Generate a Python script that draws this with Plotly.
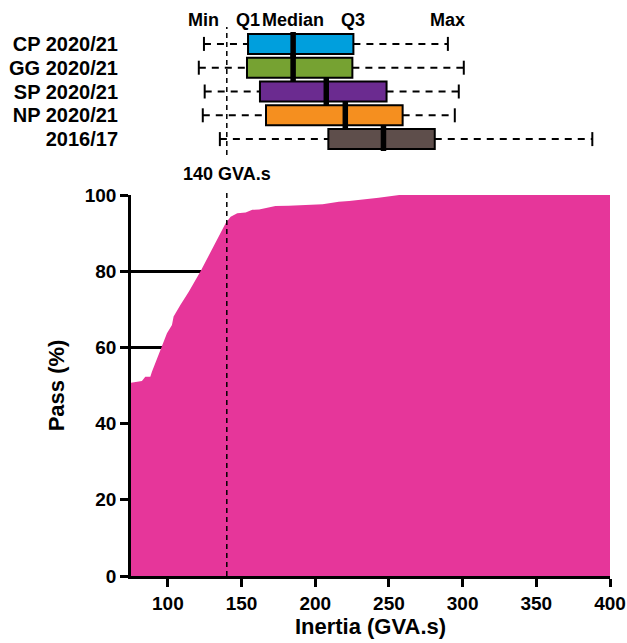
import plotly.graph_objects as go

# ---- data ----
cdf_inertia = [75, 82.4, 84.7, 88.1, 89.2, 91.5, 94.9, 97.1, 99.4, 102.8, 103.9, 108.5,
               114.2, 122.1, 125.5, 130, 134.6, 139.2, 142.6, 147.1, 152.8, 157.3, 161.9,
               173, 182, 196, 205, 216, 223, 243, 257, 400]
cdf_pass = [50.7, 51.2, 52.3, 52.3, 53.6, 55.8, 59.3, 61.1, 63.7, 65.9, 68.1, 71.1,
            74.6, 79.9, 82.5, 86.0, 89.5, 92.6, 94.3, 95.2, 95.4, 96.1, 96.2,
            97.1, 97.2, 97.4, 97.6, 98.2, 98.4, 99.3, 100, 100]

box_labels = ["CP 2020/21", "GG 2020/21", "SP 2020/21", "NP 2020/21", "2016/17"]
box_min = [124.5, 121, 125, 123.7, 135.3]
box_q1 = [154.4, 153.7, 162.5, 166.6, 208.9]
box_median = [185, 185, 207.5, 220.4, 246.3]
box_q3 = [225.9, 225.2, 248.4, 259.3, 281.1]
box_max = [290, 300.8, 297.4, 294.7, 388]
box_colors = ["#009FDD", "#76A232", "#6B2B90", "#F58F1F", "#5E4E4B"]

stat_names = ["Min", "Q1", "Median", "Q3", "Max"]
threshold = 140
threshold_label = "140 GVA.s"

x_ticks = [100, 150, 200, 250, 300, 350, 400]
y_ticks = [0, 20, 40, 60, 80, 100]

FONT = "Liberation Sans, Arial, sans-serif"

# layout geometry (pixels)
W, H = 627, 643
ML, MR, MT, MB = 131, 17, 32, 67
PH = H - MT - MB
MAIN_TOP = (576 - 195) / PH
TOP_BOTTOM = (576 - 151) / PH


def py(pixel_y):
    """pixel row (from top of figure) -> paper y"""
    return (H - MB - pixel_y) / PH


fig = go.Figure()

# CDF area
fig.add_trace(go.Scatter(
    x=cdf_inertia, y=cdf_pass, mode="lines", fill="tozeroy",
    line=dict(width=0, color="#E6369A"), fillcolor="#E6369A",
    xaxis="x", yaxis="y", showlegend=False, hoverinfo="skip"))

rows = list(range(len(box_labels)))

# Boxes (Q1..Q3)
fig.add_trace(go.Bar(
    y=rows, x=[q3 - q1 for q1, q3 in zip(box_q1, box_q3)], base=box_q1,
    orientation="h", width=0.84,
    marker=dict(color=box_colors, line=dict(color="black", width=2)),
    xaxis="x", yaxis="y2", showlegend=False, hoverinfo="skip"))

# Whiskers
for i in rows:
    fig.add_trace(go.Scatter(
        x=[box_min[i], box_q1[i], None, box_q3[i], box_max[i]],
        y=[i, i, None, i, i], mode="lines",
        line=dict(color="black", width=2, dash="7px,6px"),
        xaxis="x", yaxis="y2", showlegend=False, hoverinfo="skip"))

# Whisker caps
fig.add_trace(go.Scatter(
    x=box_min + box_max, y=rows + rows, mode="markers",
    marker=dict(symbol="line-ns", size=10, line=dict(color="black", width=2)),
    xaxis="x", yaxis="y2", showlegend=False, hoverinfo="skip"))

# Medians
fig.add_trace(go.Scatter(
    x=box_median, y=rows, mode="markers",
    marker=dict(symbol="line-ns", size=20, line=dict(color="black", width=5.5)),
    xaxis="x", yaxis="y2", showlegend=False, hoverinfo="skip"))

annotations = []
cp_stats = [box_min[0], box_q1[0], box_median[0], box_q3[0], box_max[0]]
for name, xv in zip(stat_names, cp_stats):
    annotations.append(dict(x=xv, y=py(20.5), xref="x", yref="paper", text=name,
                            showarrow=False, xanchor="center", yanchor="middle",
                            font=dict(family=FONT, size=18, color="black", weight="bold")))
annotations.append(dict(x=threshold, y=py(174), xref="x", yref="paper", text=threshold_label,
                        showarrow=False, xanchor="center", yanchor="middle",
                        font=dict(family=FONT, size=18, color="black", weight="bold")))

shapes = [
    dict(type="line", xref="x", yref="paper", x0=threshold, x1=threshold, y0=py(155), y1=py(27),
         line=dict(color="black", width=1.5, dash="5px,4px"), layer="above"),
    dict(type="line", xref="x", yref="paper", x0=threshold, x1=threshold, y0=0, y1=py(189),
         line=dict(color="black", width=1.5, dash="5px,4px"), layer="above"),
]

fig.update_layout(
    width=W, height=H,
    margin=dict(l=ML, r=MR, t=MT, b=MB, autoexpand=False),
    paper_bgcolor="white", plot_bgcolor="white",
    font=dict(family=FONT, size=19, color="black", weight="bold"),
    showlegend=False,
    barmode="overlay",
    annotations=annotations, shapes=shapes,
    xaxis=dict(range=[75, 400], tickvals=x_ticks, showgrid=False, zeroline=False,
               showline=True, linecolor="black", linewidth=2.5,
               ticks="outside", ticklen=8, tickwidth=2.5, tickcolor="black",
               tickfont=dict(family=FONT, size=19, weight="bold"),
               title=dict(text="Inertia (GVA.s)", standoff=6,
                          font=dict(family=FONT, size=22, weight="bold")),
               anchor="y", automargin=False),
    yaxis=dict(range=[0, 100], tickvals=y_ticks, domain=[0, MAIN_TOP],
               showgrid=True, gridcolor="black", gridwidth=2.5, zeroline=False,
               showline=True, linecolor="black", linewidth=2.5,
               ticks="outside", ticklen=8, tickwidth=2.5, tickcolor="black",
               tickfont=dict(family=FONT, size=19, weight="bold"),
               title=dict(text="Pass (%)", standoff=15,
                          font=dict(family=FONT, size=22, weight="bold")),
               anchor="x", automargin=False),
    yaxis2=dict(range=[4.5, -0.5], domain=[TOP_BOTTOM, 1], tickvals=rows, ticktext=box_labels,
                showgrid=False, zeroline=False, showline=False,
                ticks="outside", ticklen=8, tickcolor="rgba(0,0,0,0)",
                tickfont=dict(family=FONT, size=20, weight="bold"),
                anchor="x", automargin=False),
)

fig.write_html("out.html",
               config={"displayModeBar": False},
               post_script="document.body.style.margin='0';document.body.style.overflow='hidden';")
